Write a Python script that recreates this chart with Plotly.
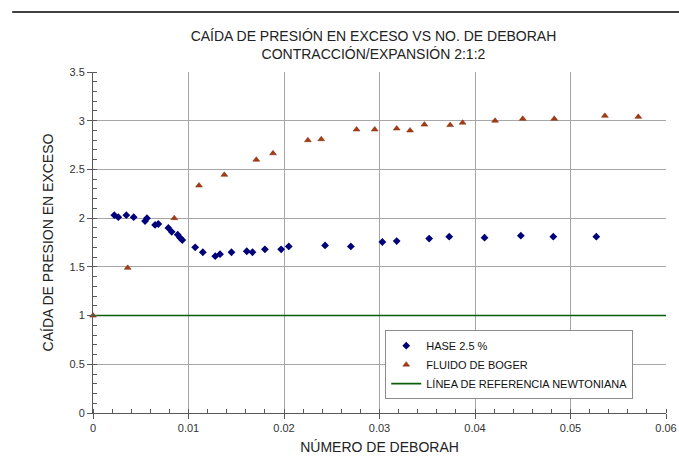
import plotly.graph_objects as go

# Número de Deborah vs caída de presión en exceso, HASE 2.5 %
hase_de = [0.00223, 0.00265, 0.00349, 0.00426, 0.00545, 0.00565, 0.0065, 0.00684,
           0.00789, 0.00824, 0.00887, 0.00911, 0.00935, 0.0107, 0.0115, 0.0128,
           0.0133, 0.0145, 0.0161, 0.0167, 0.0180, 0.0197, 0.0205, 0.0243,
           0.0270, 0.0303, 0.0318, 0.0352, 0.0373, 0.0410, 0.0448, 0.0482, 0.0527]
hase_dp = [2.03, 2.01, 2.03, 2.01, 1.97, 2.00, 1.93, 1.94,
           1.90, 1.86, 1.83, 1.80, 1.775, 1.70, 1.65, 1.61,
           1.63, 1.65, 1.66, 1.65, 1.68, 1.68, 1.71, 1.72,
           1.71, 1.755, 1.765, 1.79, 1.81, 1.80, 1.82, 1.81, 1.81]

# Fluido de Boger
boger_de = [0.0, 0.00363, 0.00851, 0.0111, 0.01375, 0.0171, 0.01885, 0.0225, 0.0239,
            0.0276, 0.0295, 0.0318, 0.0332, 0.0347, 0.0374, 0.0387, 0.0421,
            0.0450, 0.0483, 0.0536, 0.0571]
boger_dp = [1.0, 1.49, 2.00, 2.335, 2.445, 2.60, 2.665, 2.80, 2.81,
            2.91, 2.91, 2.92, 2.90, 2.96, 2.955, 2.98, 3.00,
            3.02, 3.02, 3.05, 3.04]

# Línea de referencia newtoniana
newt_de = [0.0, 0.06]
newt_dp = [1.0, 1.0]

x_ticks = [0, 0.01, 0.02, 0.03, 0.04, 0.05, 0.06]
x_labels = ["0", "0.01", "0.02", "0.03", "0.04", "0.05", "0.06"]
y_ticks = [0, 0.5, 1, 1.5, 2, 2.5, 3, 3.5]
y_labels = ["0", "0.5", "1", "1.5", "2", "2.5", "3", "3.5"]

FONT = "Arial, Liberation Sans, sans-serif"

fig = go.Figure()
fig.add_trace(go.Scatter(
    x=hase_de, y=hase_dp, mode="markers", name="HASE 2.5 %",
    marker=dict(symbol="diamond", size=6, color="#00007a"),
    cliponaxis=False,
))
fig.add_trace(go.Scatter(
    x=boger_de, y=boger_dp, mode="markers", name="FLUIDO DE BOGER",
    marker=dict(symbol="triangle-up", size=6, color="#a83a12",
                line=dict(color="#7a2a0c", width=0.5)),
    cliponaxis=False,
))
fig.add_trace(go.Scatter(
    x=newt_de, y=newt_dp, mode="lines", name="LÍNEA DE REFERENCIA NEWTONIANA",
    line=dict(color="#0b5e0b", width=1.6),
))

axis_common = dict(
    showgrid=True, gridcolor="#a6a6a6", gridwidth=1,
    zeroline=False, showline=True, linecolor="#595959", linewidth=1,
    ticks="outside", ticklen=5, tickcolor="#595959", automargin=False,
    tickfont=dict(family=FONT, size=11, color="#333333"),
)

fig.update_xaxes(
    range=[0, 0.06], tickvals=x_ticks, ticktext=x_labels,
    minor=dict(ticks="inside", dtick=0.002, ticklen=4, tickcolor="#595959", showgrid=False),
    title=dict(text="NÚMERO DE DEBORAH", font=dict(family=FONT, size=14, color="#222222"),
               standoff=8),
    **axis_common,
)
fig.update_yaxes(
    range=[0, 3.5], tickvals=y_ticks, ticktext=y_labels,
    minor=dict(ticks="inside", dtick=0.1, ticklen=4, tickcolor="#595959", showgrid=False),
    title=dict(text="CAÍDA DE PRESION EN EXCESO", font=dict(family=FONT, size=14, color="#222222"),
               standoff=12),
    **axis_common,
)

fig.update_layout(
    width=679, height=465,
    margin=dict(l=93, r=13, t=72, b=52, autoexpand=False),
    paper_bgcolor="white", plot_bgcolor="white",
    title=dict(
        text="CAÍDA DE PRESIÓN EN EXCESO VS NO. DE DEBORAH<br>CONTRACCIÓN/EXPANSIÓN 2:1:2",
        x=0.55, xanchor="center", y=0.912, yanchor="middle",
        font=dict(family=FONT, size=14, color="#222222"),
    ),
    legend=dict(
        x=0.51, y=0.243, xanchor="left", yanchor="top",
        bgcolor="white", bordercolor="#8c8c8c", borderwidth=1,
        font=dict(family=FONT, size=11, color="#111111"),
        tracegroupgap=0, itemwidth=30,
    ),
    showlegend=True,
)

# rule across the top of the page
fig.add_shape(type="line", xref="paper", yref="paper", layer="above",
              x0=-0.141, x1=1.03, y0=1.176, y1=1.176,
              line=dict(color="#404040", width=2))

fig.write_html("out.html", config={"displayModeBar": False})
